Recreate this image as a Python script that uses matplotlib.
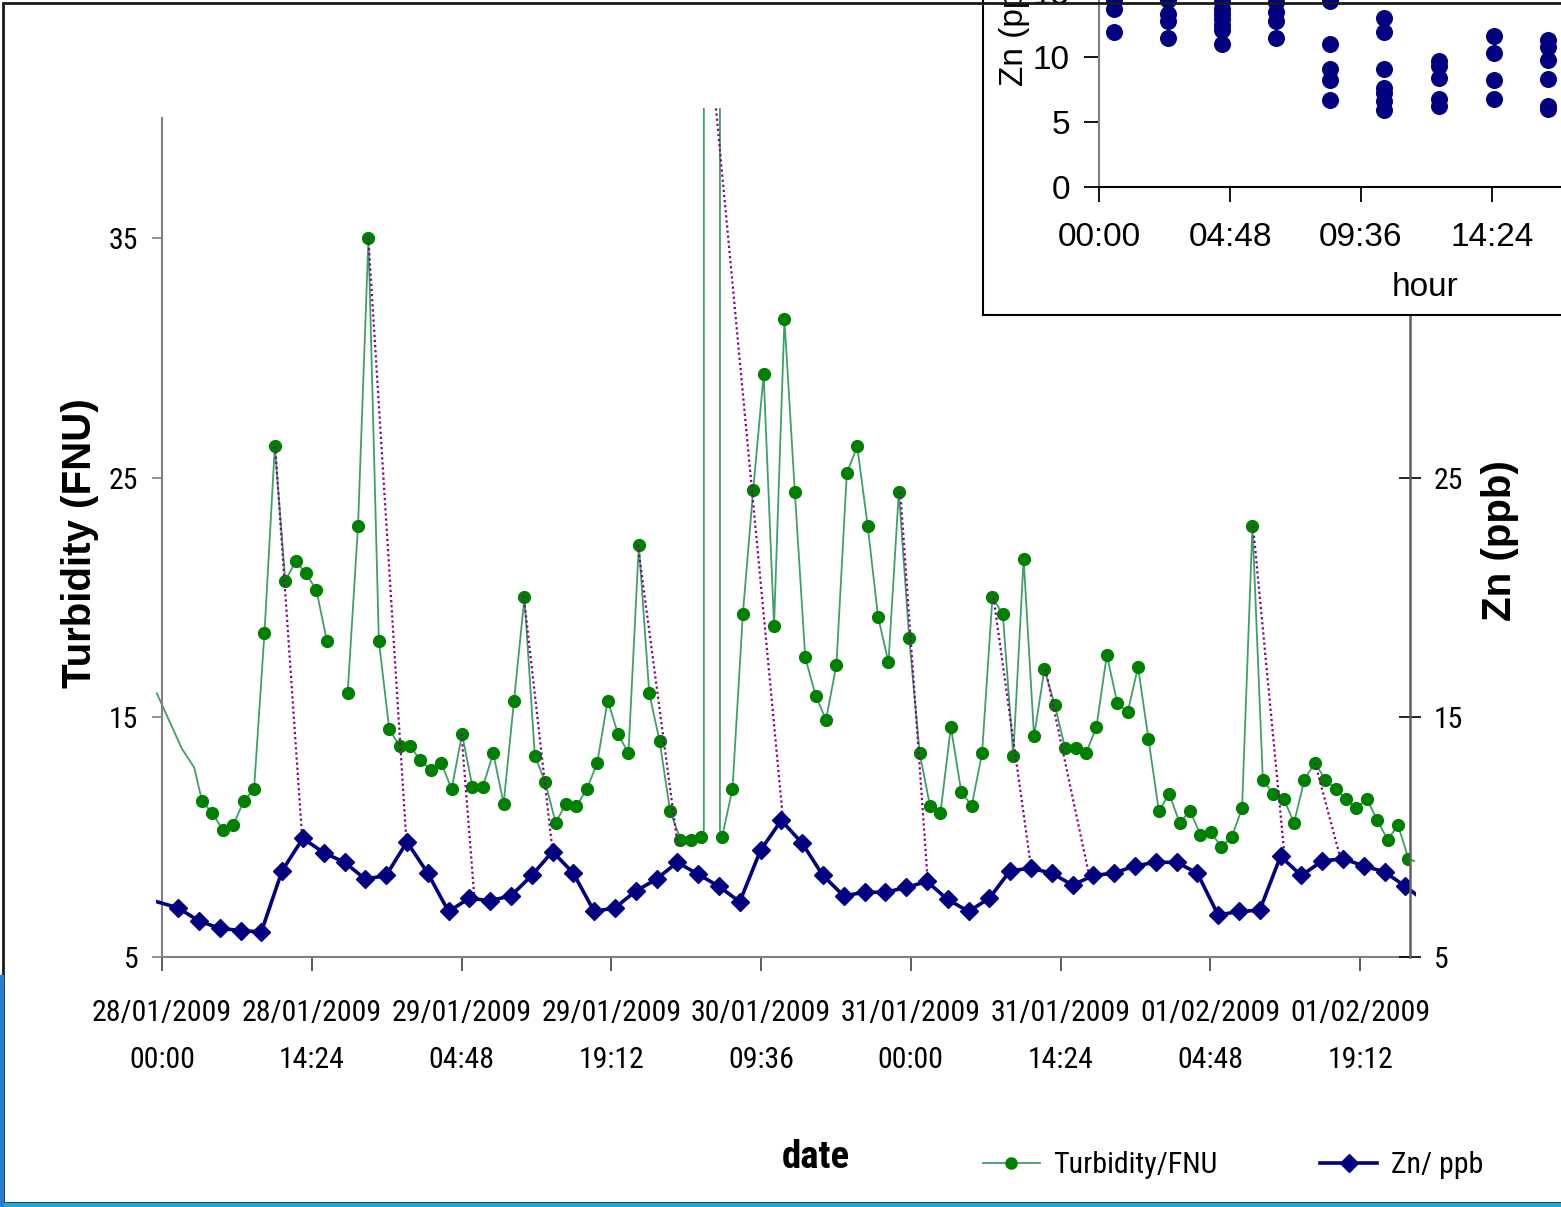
import numpy as np
import matplotlib
matplotlib.use("Agg")
import matplotlib.pyplot as plt
from matplotlib.patches import Rectangle
from matplotlib.lines import Line2D
from matplotlib.transforms import Bbox, TransformedBbox

W, H, DPI = 1561, 1207, 100

NARROW = "Roboto Condensed"   # stand-in for Arial Narrow
REG = "Liberation Sans"
TICK_SIZE = 21.5

# ---- main chart data (hours after 28/01/2009 00:00) ----
turb_start = 3.85          # first marked turbidity reading, hourly afterwards
turb_vals = [11.5, 11.0, 10.3, 10.5, 11.5, 12.0, 18.5, 26.3, 20.7, 21.5,
             21.0, 20.3, 18.2, np.nan, 16.0, 23.0, 35.0, 18.2, 14.5, 13.8,
             13.8, 13.2, 12.8, 13.1, 12.0, 14.3, 12.1, 12.1, 13.5, 11.4,
             15.7, 20.0, 13.4, 12.3, 10.6, 11.4, 11.3, 12.0, 13.1, 15.7,
             14.3, 13.5, 22.2, 16.0, 14.0, 11.1, 9.9, 9.9, 10.0, np.nan,
             10.0, 12.0, 19.3, 24.5, 29.3, 18.8, 31.6, 24.4, 17.5, 15.9,
             14.9, 17.2, 25.2, 26.3, 23.0, 19.2, 17.3, 24.4, 18.3, 13.5,
             11.3, 11.0, 14.6, 11.9, 11.3, 13.5, 20.0, 19.3, 13.4, 21.6,
             14.2, 17.0, 15.5, 13.7, 13.7, 13.5, 14.6, 17.6, 15.6, 15.2,
             17.1, 14.1, 11.1, 11.8, 10.6, 11.1, 10.1, 10.2, 9.6, 10.0,
             11.2, 23.0, 12.4, 11.8, 11.6, 10.6, 12.4, 13.1, 12.4, 12.0,
             11.6, 11.2, 11.6, 10.7, 9.9, 10.5, 9.1]
SPIKE_IDX = 49             # off-scale reading, only the line shows it
# unmarked line vertices (sub-hourly readings)
lead_t = [-0.5, 1.9, 3.1]
lead_v = [16.0, 13.7, 12.9]
spike_t = [52.1, 52.1, 53.65, 53.65]
spike_v = [10.3, 300.0, 300.0, 10.3]
trail_t = [120.4]
trail_v = [9.0]

zn_start = -0.45           # every 2 hours
zn_vals = [7.3, 7.05, 6.5, 6.2, 6.1, 6.05, 8.6, 9.95, 9.35, 8.95,
           8.25, 8.4, 9.8, 8.5, 6.9, 7.45, 7.35, 7.55, 8.4, 9.4,
           8.5, 6.9, 7.05, 7.75, 8.25, 8.95, 8.45, 7.95, 7.3, 9.45,
           10.7, 9.75, 8.4, 7.55, 7.7, 7.7, 7.9, 8.15, 7.4, 6.9,
           7.45, 8.6, 8.7, 8.5, 8.0, 8.4, 8.5, 8.8, 8.95, 8.95,
           8.5, 6.75, 6.9, 6.95, 9.2, 8.4, 9.0, 9.1, 8.8, 8.55,
           7.95]
zn_trail_t = [120.6]
zn_trail_v = [7.6]

# lag lines: turbidity peak -> Zn peak (t0, v0, t1, v1)
lag_lines = [(10.88, 26.3, 13.48, 9.95), (19.84, 35.0, 23.5, 9.8),
             (28.8, 14.3, 30.05, 7.4), (34.77, 20.1, 37.56, 9.4),
             (45.75, 22.2, 49.6, 9.6), (53.27, 40.4, 59.72, 10.7),
             (70.99, 24.4, 73.59, 8.4), (79.95, 20.0, 83.51, 8.9),
             (84.95, 17.0, 89.1, 8.5), (104.9, 23.0, 107.9, 9.4),
             (110.87, 13.1, 113.2, 9.3)]

x_ticks = [0, 14.4, 28.8, 43.2, 57.6, 72.0, 86.4, 100.8, 115.2]
x_labels = ["28/01/2009\n00:00", "28/01/2009\n14:24", "29/01/2009\n04:48",
            "29/01/2009\n19:12", "30/01/2009\n09:36", "31/01/2009\n00:00",
            "31/01/2009\n14:24", "01/02/2009\n04:48", "01/02/2009\n19:12"]
y_ticks = [5, 15, 25, 35]
y_labels_right = ["5", "15", "25", ""]   # 35 sits under the inset

# ---- inset data: Zn vs hour of day ----
inset_hours = [0.55, 2.53, 4.51, 6.49, 8.46, 10.44, 12.46, 14.47, 16.45]
inset_zn = [[14.3, 13.7, 11.9],
            [14.4, 13.3, 12.8, 11.5],
            [14.2, 13.7, 13.3, 12.9, 12.5, 12.1, 11.0],
            [14.2, 13.5, 12.8, 11.5],
            [14.3, 11.0, 9.1, 8.2, 6.7],
            [13.0, 11.9, 9.1, 7.6, 7.2, 6.6, 5.9],
            [9.7, 9.3, 8.4, 6.8, 6.2],
            [11.6, 10.3, 8.2, 6.8],
            [11.3, 10.8, 9.8, 8.3, 6.2, 6.0]]
inset_xticks = [0, 4.8, 9.6, 14.4]
inset_xlabels = ["00:00", "04:48", "09:36", "14:24"]
inset_yticks = [0, 5, 10, 15]

GREEN_LINE = "#3f9f68"
GREEN = "#008000"
NAVY = "#000080"
PURPLE = "#880088"
GREY = "#808080"


def fx(px):
    return px / W


def fy(py):
    return 1 - py / H


fig = plt.figure(figsize=(W / DPI, H / DPI), dpi=DPI)
ax = fig.add_axes([fx(162), fy(957), (1410 - 162) / W, (957 - 118) / H])
ax2 = ax.twinx()

# lines may poke a few pixels past the plot area, like the original
clip = TransformedBbox(Bbox.from_extents(-0.005, -0.01, 1.005, 1.012),
                       ax.transAxes)

# turbidity
turb_t = turb_start + np.arange(len(turb_vals))
turb_v = np.array(turb_vals, dtype=float)
keep = np.arange(len(turb_vals)) != SPIKE_IDX
line_t = np.concatenate([lead_t, turb_t[keep], spike_t, trail_t])
line_v = np.concatenate([lead_v, turb_v[keep], spike_v, trail_v])
order = np.argsort(line_t, kind="stable")
ln, = ax.plot(line_t[order], line_v[order], color=GREEN_LINE, lw=1.3)
ln.set_clip_box(clip)
mk = turb_v.copy()
mk[SPIKE_IDX] = np.nan
ax.plot(turb_t, mk, ls="none", marker="o", ms=8.5, mfc=GREEN, mec=GREEN)

for t0, v0, t1, v1 in lag_lines:
    lg, = ax.plot([t0, t1], [v0, v1], ls=(0, (1, 1.3)), color=PURPLE, lw=1.6)
    lg.set_clip_box(clip)

# zinc
zn_t = zn_start + 2 * np.arange(len(zn_vals))
zl, = ax2.plot(np.concatenate([zn_t, zn_trail_t]),
               np.concatenate([zn_vals, zn_trail_v]), color=NAVY, lw=2.6)
zl.set_clip_box(clip)
ax2.plot(zn_t[1:], zn_vals[1:], ls="none", marker="D", ms=9, mfc=NAVY, mec=NAVY)

for a in (ax, ax2):
    a.set_xlim(0, 120)
    a.set_ylim(5, 40)
    a.set_yticks(y_ticks)
ax.set_xticks(x_ticks)
ax.set_xticklabels(x_labels, fontfamily=NARROW, fontsize=TICK_SIZE,
                   linespacing=1.9)
ax.set_yticklabels([str(v) for v in y_ticks], fontfamily=NARROW,
                   fontsize=TICK_SIZE)
ax2.set_yticklabels(y_labels_right, fontfamily=NARROW, fontsize=TICK_SIZE)

for s in ("top", "right"):
    ax.spines[s].set_visible(False)
for s in ("top", "left", "bottom"):
    ax2.spines[s].set_visible(False)
for s in ("left", "bottom"):
    ax.spines[s].set_color(GREY)
    ax.spines[s].set_linewidth(1.5)
ax2.spines["right"].set_color("#606060")
ax2.spines["right"].set_linewidth(1.8)
ax.tick_params(axis="x", direction="out", length=10, width=1.2, color="#404040",
               pad=20)
ax.tick_params(axis="y", direction="out", length=7, width=1.2, color=GREY, pad=10)
ax2.tick_params(axis="y", direction="inout", length=16, width=1.2,
                color="black", pad=9)

fig.text(fx(80), fy(543), "Turbidity (FNU)", rotation=90, ha="center",
         va="center", fontfamily=REG, fontweight="bold", fontsize=29)
fig.text(fx(1500), fy(541), "Zn (ppb)", rotation=90, ha="center",
         va="center", fontfamily=REG, fontweight="bold", fontsize=29)
fig.text(fx(816), fy(1158), "date", ha="center", va="center",
         fontfamily=NARROW, fontweight="bold", fontsize=28)

handles = [Line2D([], [], color=GREEN_LINE, lw=1.3, marker="o", ms=8,
                  mfc=GREEN, mec=GREEN),
           Line2D([], [], color=NAVY, lw=2.6, marker="D", ms=9,
                  mfc=NAVY, mec=NAVY)]
fig.legend(handles, ["Turbidity/FNU", "Zn/ ppb"], loc="center left",
           bbox_to_anchor=(fx(983), fy(1165)), ncol=2, frameon=False,
           handlelength=1.9, handletextpad=0.45, columnspacing=3.45,
           borderaxespad=0, borderpad=0,
           prop={"family": NARROW, "size": TICK_SIZE})

# inset frame and axes
fig.add_artist(Rectangle((fx(983), fy(315)), 1, 1, transform=fig.transFigure,
                         facecolor="white", edgecolor="black", lw=1.5,
                         zorder=5))
ax_in = fig.add_axes([fx(1099), fy(187), 655 / W, 13 * 25 / H], zorder=6)
ax_in.patch.set_visible(False)
for hx, vals in zip(inset_hours, inset_zn):
    ax_in.scatter([hx] * len(vals), vals, s=150, color=NAVY, lw=0)
ax_in.set_xlim(0, 24)
ax_in.set_ylim(0, 25)
ax_in.set_xticks(inset_xticks)
ax_in.set_xticklabels(inset_xlabels, fontfamily=REG, fontsize=24)
ax_in.set_yticks(inset_yticks)
ax_in.set_yticklabels([str(v) for v in inset_yticks], fontfamily=REG,
                      fontsize=24)
for s in ("top", "right"):
    ax_in.spines[s].set_visible(False)
ax_in.spines["left"].set_color(GREY)
ax_in.spines["left"].set_linewidth(1.5)
ax_in.spines["bottom"].set_linewidth(1.5)
ax_in.tick_params(axis="x", direction="out", length=11, width=1.3, pad=14)
ax_in.tick_params(axis="y", direction="out", length=11, width=1.3, pad=10)
fig.text(fx(1425), fy(287), "hour", ha="center", va="center", fontfamily=REG,
         fontsize=24, zorder=7)
fig.text(fx(1015), fy(23), "Zn (ppb)", rotation=90, ha="center", va="center",
         fontfamily=REG, fontsize=24, zorder=7)

# slide border
fig.add_artist(Rectangle((fx(3), fy(1203)), 1, (1203 - 3) / H,
                         transform=fig.transFigure, fill=False,
                         edgecolor="#1a1a1a", lw=2, zorder=10))
fig.add_artist(Rectangle((0, 0), 1, 4 / H, transform=fig.transFigure,
                         color="#19a7dc", zorder=10))
fig.add_artist(Rectangle((0, 0), 3 / W, (1207 - 975) / H,
                         transform=fig.transFigure, color="#2a7fd0", zorder=10))

fig.savefig("out.png", dpi=DPI)
